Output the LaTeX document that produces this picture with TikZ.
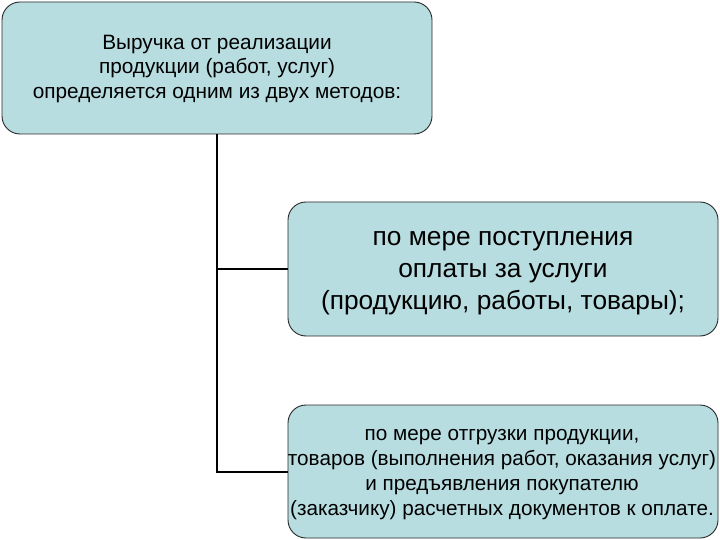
\documentclass[tikz,border=0pt]{standalone}
\usepackage{fontspec}
\setmainfont{Liberation Sans}
\definecolor{boxfill}{RGB}{184,221,225}
\definecolor{boxline}{RGB}{40,40,40}
\begin{document}
\begin{tikzpicture}[x=1pt,y=1pt,
  box/.style={draw=boxline, line width=0.9pt, fill=boxfill, rounded corners=18pt, inner sep=0pt},
  conn/.style={draw=black, line width=2pt}]
\useasboundingbox (0,0) rectangle (720,-540);
\node[box, minimum width=430, minimum height=132] (top) at (217,-68) {};
\node[align=center, font=\fontsize{20.8}{24.5}\selectfont] (toptext) at ([yshift=-1pt]top.center)
  {Выручка от реализации\\продукции (работ, услуг)\\определяется одним из двух методов:};
\node[box, minimum width=430, minimum height=134] (b2) at (503,-269) {};
\node[align=center, font=\fontsize{26.3}{32}\selectfont] (b2text) at ([yshift=-4pt]b2.center)
  {по мере поступления\\оплаты за услуги\\(продукцию, работы, товары);};
\node[box, minimum width=430, minimum height=133] (b3) at (503,-471.5) {};
\node[align=center, font=\fontsize{20.7}{25.2}\selectfont] (b3text) at ([xshift=-1pt,yshift=-3pt]b3.center)
  {по мере отгрузки продукции,\\товаров (выполнения работ, оказания услуг)\\и предъявления покупателю\\(заказчику) расчетных документов к оплате.};
\coordinate (j3) at (top.south |- b3.west);
\coordinate (j2) at (top.south |- b2.west);
\draw[conn] (top.south) -- (j3) -- (b3.west);
\draw[conn] (j2) -- (b2.west);
\end{tikzpicture}
\end{document}
